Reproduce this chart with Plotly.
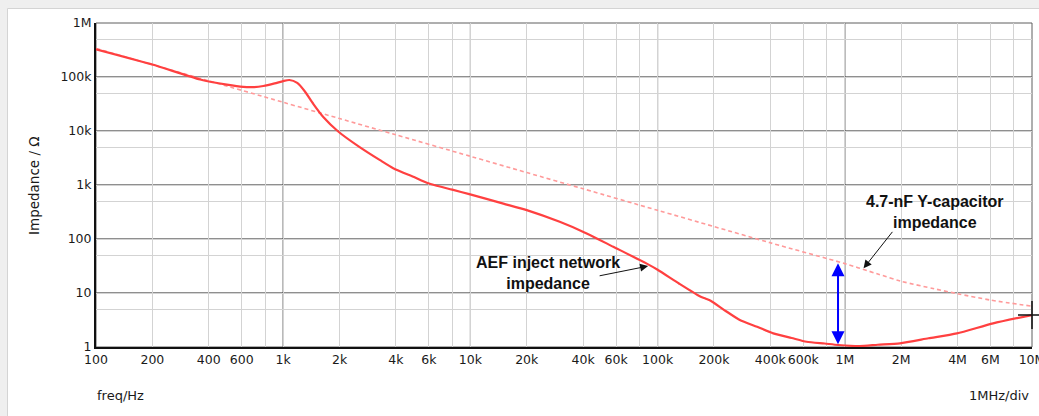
import numpy as np
import plotly.graph_objects as go

# ---------------- data ----------------
freq_main = [100, 200, 360, 500, 612, 700, 783, 900, 1000, 1079, 1188, 1300, 1450,
             1637, 1967, 2550, 3290, 3870, 5000, 5850, 6600, 8000, 9860, 15000,
             20000, 30000, 41800, 58000, 87500, 100000, 130000, 168000, 180000,
             192000, 230000, 275000, 340000, 415000, 520000, 625000, 780000,
             922000, 1200000, 1500000, 1970000, 2800000, 3970000, 6200000, 10000000]
z_main = [326000, 170000, 89800, 72000, 65500, 65000, 68000, 76000, 84000, 88000,
          77600, 55000, 31600, 18200, 9800, 5080, 2880, 2050, 1400, 1100, 970, 820,
          677, 452, 343, 208, 127, 71.8, 35.0, 27.0, 15.0, 8.7, 7.9, 7.2, 4.7,
          3.16, 2.37, 1.79, 1.47, 1.25, 1.16, 1.09, 1.04, 1.10, 1.17, 1.45, 1.79,
          2.74, 3.9]

freq_cap = [100, 200, 400, 1000, 2000, 4000, 10000, 20000, 40000, 100000, 200000,
            400000, 1000000, 1500000, 2000000, 3000000, 4000000, 6000000, 10000000]
z_cap = [338000, 169000, 85000, 34000, 17000, 8500, 3400, 1700, 850, 340, 170,
         85, 35, 22.5, 16.5, 12.0, 9.7, 7.4, 5.7]

x_tick_vals = [100, 200, 400, 600, 1e3, 2e3, 4e3, 6e3, 1e4, 2e4, 4e4, 6e4, 1e5,
               2e5, 4e5, 6e5, 1e6, 2e6, 4e6, 6e6, 1e7]
x_tick_text = ["100", "200", "400", "600", "1k", "2k", "4k", "6k", "10k", "20k",
               "40k", "60k", "100k", "200k", "400k", "600k", "1M", "2M", "4M",
               "6M", "10M"]
x_unlabelled_grid = [800, 8e3, 8e4, 8e5, 8e6]
x_decades = [1e3, 1e4, 1e5, 1e6]

y_tick_vals = [1, 10, 100, 1e3, 1e4, 1e5, 1e6]
y_tick_text = ["1", "10", "100", "1k", "10k", "100k", "1M"]
y_unlabelled_grid = [5, 50, 500, 5e3, 5e4, 5e5]
y_decades = [10, 100, 1e3, 1e4, 1e5]

# annotation anchors
arrow_f = 920000
arrow_top = 35.4
arrow_bottom = 1.06
aef_label_f, aef_label_z = 26000, 23.9
aef_tip_f, aef_tip_z = 89000, 31.5
cap_label_f, cap_label_z = 3030000, 318
cap_tip_f, cap_tip_z = 1260000, 28.6

# ---------------- figure ----------------
W, H = 1039, 416
ML, MR, MT, MB = 96, 7, 23, 69
PW, PH = W - ML - MR, H - MT - MB


def px2paper_x(px):
    return (px - ML) / PW


def px2paper_y(py):
    return (H - MB - py) / PH


# combine labelled and unlabelled grid positions
xt = sorted(zip(x_tick_vals + x_unlabelled_grid,
                x_tick_text + [""] * len(x_unlabelled_grid)))
yt = sorted(zip(y_tick_vals + y_unlabelled_grid,
                y_tick_text + [""] * len(y_unlabelled_grid)))

fig = go.Figure()

fig.add_trace(go.Scatter(
    x=freq_cap, y=z_cap, mode="lines", line_shape="spline",
    line=dict(color="#ff9a9a", width=1.6, dash="4px,3px", smoothing=0.8),
    hoverinfo="skip", showlegend=False))

fig.add_trace(go.Scatter(
    x=freq_main, y=z_main, mode="lines", line_shape="spline",
    line=dict(color="#ff4040", width=2.2, smoothing=0.6),
    hoverinfo="skip", showlegend=False))

fig.add_trace(go.Scatter(
    x=[freq_main[-1]], y=[z_main[-1]], mode="markers", cliponaxis=False,
    marker=dict(symbol="cross-thin", size=20, line=dict(width=1.5, color="#111")),
    hoverinfo="skip", showlegend=False))

shapes = []
# white panel
shapes.append(dict(type="rect", xref="paper", yref="paper",
                   x0=px2paper_x(7.5), x1=px2paper_x(W + 10),
                   y0=px2paper_y(H + 10), y1=px2paper_y(8.5),
                   fillcolor="white", line=dict(color="#d4d4d4", width=1),
                   layer="below"))
# decade lines (dark); shapes on log axes take data values
for f in x_decades:
    shapes.append(dict(type="line", xref="x", yref="paper",
                       x0=f, x1=f, y0=0, y1=1,
                       line=dict(color="#1e1e1e", width=1), layer="between"))
for z in y_decades:
    shapes.append(dict(type="line", xref="paper", yref="y",
                       x0=0, x1=1, y0=z, y1=z,
                       line=dict(color="#1e1e1e", width=1), layer="between"))
# frame
shapes.append(dict(type="rect", xref="paper", yref="paper", x0=0, x1=1, y0=0, y1=1,
                   line=dict(color="#5e5e5e", width=1), layer="between"))

annotations = []
# blue double arrow
annotations.append(dict(
    x=np.log10(arrow_f), y=np.log10(arrow_top),
    ax=np.log10(arrow_f), ay=np.log10(arrow_bottom),
    xref="x", yref="y", axref="x", ayref="y", text="", showarrow=True,
    arrowside="end+start", arrowhead=2, startarrowhead=2, arrowsize=1.3,
    startarrowsize=1.3, arrowwidth=2, arrowcolor="#0000ff"))
# AEF arrow + label
annotations.append(dict(
    x=np.log10(aef_tip_f), y=np.log10(aef_tip_z), xref="x", yref="y",
    ax=-50, ay=10, text="", showarrow=True, arrowhead=2, arrowsize=1.6,
    arrowwidth=1, arrowcolor="#111"))
annotations.append(dict(
    x=np.log10(aef_label_f), y=np.log10(aef_label_z), xref="x", yref="y",
    text="<b>AEF inject network<br>impedance</b>", showarrow=False,
    font=dict(family="Liberation Sans, Arial", size=16, color="#111"),
    align="center"))
# capacitor arrow + label
annotations.append(dict(
    x=np.log10(cap_tip_f), y=np.log10(cap_tip_z), xref="x", yref="y",
    ax=30, ay=-38, text="", showarrow=True, arrowhead=2, arrowsize=1.6,
    arrowwidth=1, arrowcolor="#111"))
annotations.append(dict(
    x=np.log10(cap_label_f), y=np.log10(cap_label_z), xref="x", yref="y",
    text="<b>4.7-nF Y-capacitor<br>impedance</b>", showarrow=False,
    font=dict(family="Liberation Sans, Arial", size=16, color="#111"),
    align="center"))
# axis titles
axis_font = dict(family="DejaVu Sans", size=13, color="#1a1a1a")
annotations.append(dict(
    x=px2paper_x(34), y=px2paper_y(186), xref="paper", yref="paper",
    xanchor="center", yanchor="middle",
    text="Impedance / Ω", textangle=-90, showarrow=False,
    font=dict(family="DejaVu Sans", size=13.5, color="#1a1a1a")))
annotations.append(dict(
    x=px2paper_x(95), y=px2paper_y(395), xref="paper", yref="paper",
    text="freq/Hz", showarrow=False, xanchor="left", yanchor="middle", font=axis_font))
annotations.append(dict(
    x=px2paper_x(1031), y=px2paper_y(395), xref="paper", yref="paper",
    text="1MHz/div", showarrow=False, xanchor="right", yanchor="middle", font=axis_font))

tick_font = dict(family="DejaVu Sans", size=12.5, color="#1a1a1a")

fig.update_layout(
    width=W, height=H,
    margin=dict(l=ML, r=MR, t=MT, b=MB, pad=0),
    paper_bgcolor="#efefef", plot_bgcolor="white",
    shapes=shapes, annotations=annotations, showlegend=False,
    xaxis=dict(type="log", range=[2, 7], tickmode="array",
               tickvals=[v for v, _ in xt], ticktext=[t for _, t in xt],
               tickangle=0, showgrid=True, gridcolor="#d3d3d3", gridwidth=1,
               zeroline=False, showline=True, linecolor="#111", linewidth=2,
               ticks="", tickfont=tick_font, automargin=False,
               ticklabeloverflow="allow"),
    yaxis=dict(type="log", range=[0, 6], tickmode="array",
               tickvals=[v for v, _ in yt], ticktext=[t for _, t in yt],
               showgrid=True, gridcolor="#d3d3d3", gridwidth=1, zeroline=False,
               showline=True, linecolor="#111", linewidth=2, ticks="",
               tickfont=tick_font, automargin=False),
)

fig.write_html("out.html")
